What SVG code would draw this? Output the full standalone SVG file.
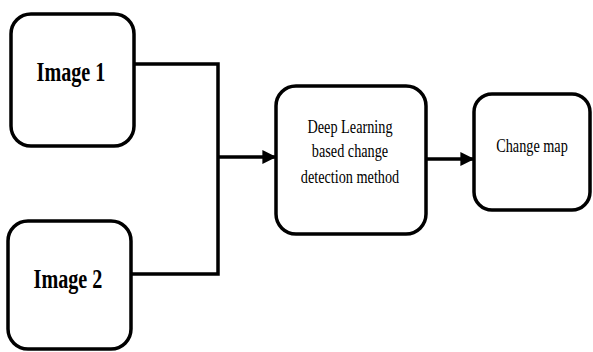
<svg xmlns="http://www.w3.org/2000/svg" width="593" height="352" viewBox="0 0 593 352">
<defs>
<style>
.box{fill:#fff;stroke:#000;stroke-width:3.5}
.lbl{font-family:"Liberation Serif","Times New Roman",serif;fill:#000;text-anchor:middle}
.b{font-weight:bold;font-size:28px}
.r{font-size:19px}
.conn{fill:none;stroke:#000;stroke-width:3.5}
</style>
<marker id="ah" viewBox="0 0 10 10" refX="9" refY="5" markerWidth="4" markerHeight="4" markerUnits="strokeWidth" orient="auto">
<path d="M0,0 L10,5 L0,10 z" fill="#000"/>
</marker>
</defs>
<rect width="593" height="352" fill="#fff"/>
<g id="connectors">
<polyline class="conn" points="135,64 218,64 218,274 131,274" stroke-width="4"/>
<line class="conn" x1="218" y1="157" x2="275" y2="157" marker-end="url(#ah)"/>
<line class="conn" x1="426" y1="159" x2="473" y2="159" marker-end="url(#ah)"/>
</g>
<g id="image1">
<rect class="box" x="11" y="14" width="123" height="132" rx="20"/>
<text class="lbl b" transform="translate(71,81) scale(0.72,1)">Image 1</text>
</g>
<g id="image2">
<rect class="box" x="8" y="221" width="123" height="128" rx="20"/>
<text class="lbl b" transform="translate(68,288) scale(0.72,1)">Image 2</text>
</g>
<g id="deep">
<rect class="box" x="276" y="86" width="150" height="148" rx="20"/>
<text class="lbl r" transform="translate(350,133) scale(0.75,1)">Deep Learning</text>
<text class="lbl r" transform="translate(350,157) scale(0.75,1)">based change</text>
<text class="lbl r" transform="translate(350,183) scale(0.75,1)">detection method</text>
</g>
<g id="changemap">
<rect class="box" x="474" y="94" width="116" height="116" rx="18"/>
<text class="lbl r" transform="translate(532,152) scale(0.75,1)">Change map</text>
</g>
</svg>
